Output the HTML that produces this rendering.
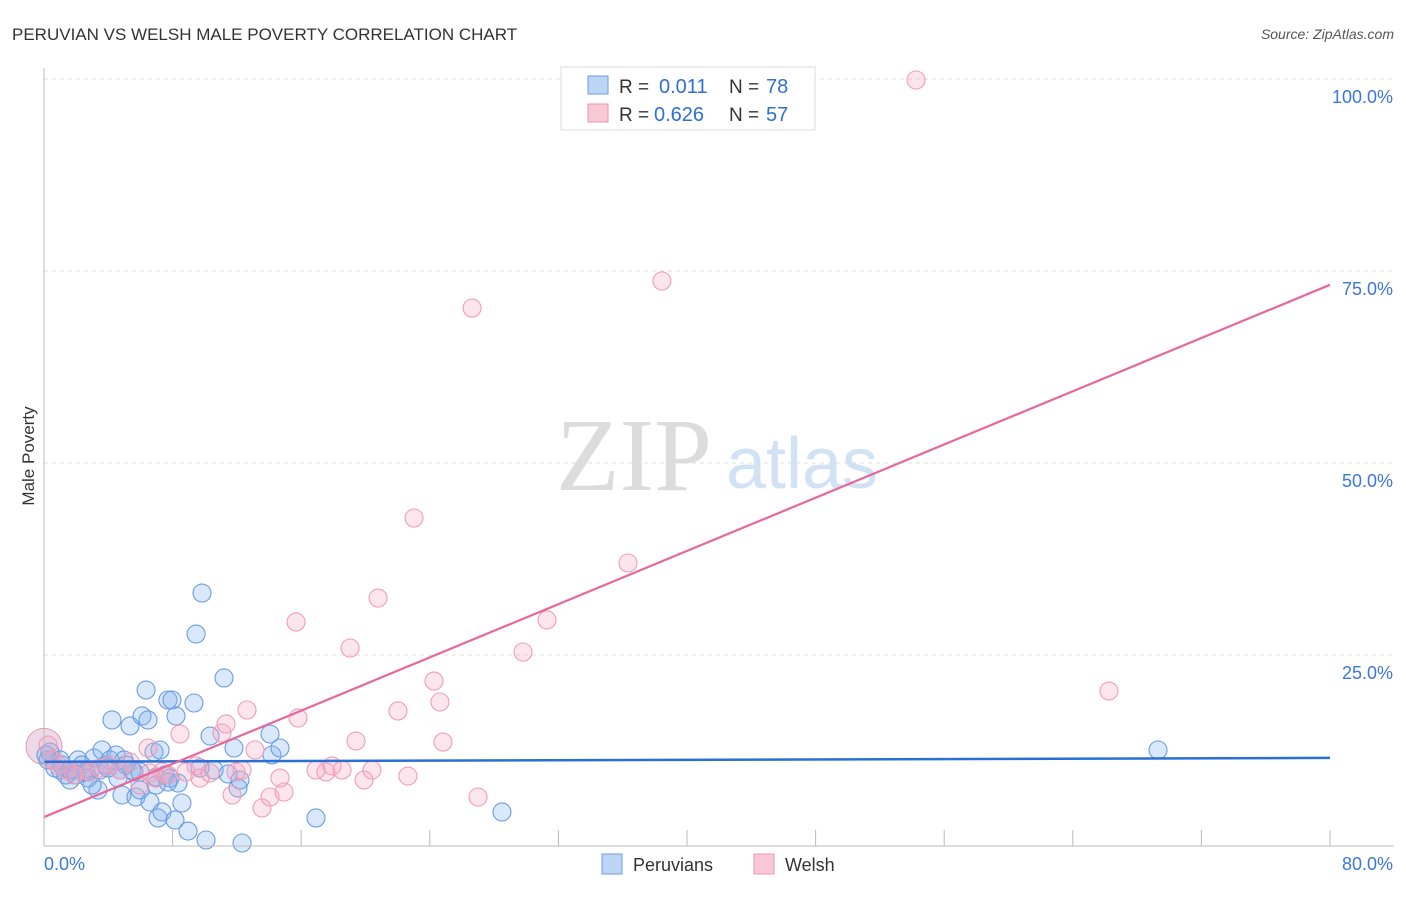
<!DOCTYPE html>
<html><head><meta charset="utf-8"><style>
body{margin:0;background:#fff;font-family:"Liberation Sans",sans-serif}
svg text{font-family:"Liberation Sans",sans-serif}
</style></head><body>
<svg id="chart" width="1406" height="892" xmlns="http://www.w3.org/2000/svg">
<text x="12" y="40" font-size="17" fill="#333">PERUVIAN VS WELSH MALE POVERTY CORRELATION CHART</text>
<text x="1394" y="39" font-size="14" fill="#555" font-style="italic" text-anchor="end">Source: ZipAtlas.com</text>
<g id="grid"></g>
<text x="634" y="490" font-size="104" fill="#dcdcdc" text-anchor="middle" style="font-family:'Liberation Serif',serif">ZIP</text>
<text x="802" y="488" font-size="72" fill="#d2e2f5" text-anchor="middle">atlas</text>
<g id="marks"></g>
<g id="axes"></g>
<text x="34" y="456" font-size="17" fill="#333" text-anchor="middle" transform="rotate(-90 34 456)">Male Poverty</text>
<g>
<rect x="561" y="67" width="254" height="63" fill="#fff" stroke="#ddd"/>
<rect x="588" y="76" width="20" height="18" fill="#bcd5f5" stroke="#6b9de0"/>
<rect x="588" y="104" width="20" height="18" fill="#f9c9d8" stroke="#eb94b0"/>
<text x="619" y="93" font-size="19" fill="#333">R =</text>
<text x="659" y="93" font-size="20" fill="#2f6fd6">0.011</text>
<text x="729" y="93" font-size="19" fill="#333">N =</text>
<text x="766" y="93" font-size="20" fill="#2f6fd6">78</text>
<text x="619" y="121" font-size="19" fill="#333">R =</text>
<text x="654" y="121" font-size="20" fill="#2f6fd6">0.626</text>
<text x="729" y="121" font-size="19" fill="#333">N =</text>
<text x="766" y="121" font-size="20" fill="#2f6fd6">57</text>
</g>
<g>
<rect x="602" y="854" width="20" height="20" fill="#bcd5f5" stroke="#6b9de0"/>
<text x="633" y="871" font-size="18" fill="#333">Peruvians</text>
<rect x="754" y="854" width="20" height="20" fill="#f9c9d8" stroke="#eb94b0"/>
<text x="785" y="871" font-size="18" fill="#333">Welsh</text>
</g>
</svg>
<script>
const xTicks=[0,80];
const yTicks=[25,50,75,100];
const bluePx=[[48,760],[50,752],[55,768],[60,770],[62,765],[66,775],[70,780],[74,770],[78,760],[82,765],[86,772],[90,770],[94,758],[98,790],[102,750],[106,765],[110,760],[112,720],[116,755],[118,778],[120,770],[124,760],[122,795],[130,726],[134,772],[136,797],[140,790],[142,716],[146,690],[148,720],[150,802],[154,752],[156,785],[158,818],[160,750],[162,812],[165,775],[168,700],[170,778],[172,700],[175,820],[176,716],[178,783],[182,803],[188,831],[194,703],[196,634],[202,593],[206,840],[210,736],[214,770],[224,678],[228,774],[234,748],[238,788],[242,843],[240,780],[270,734],[272,755],[280,748],[316,818],[502,812],[1158,750],[88,778],[92,785],[100,770],[126,765],[140,772],[60,760],[52,760],[70,770],[108,768],[132,770],[156,777],[168,782],[200,768],[76,775],[46,755]];
const pinkPx=[[48,745],[52,760],[58,765],[66,770],[74,775],[82,770],[90,772],[100,768],[110,765],[120,770],[130,762],[140,785],[148,748],[150,773],[156,778],[162,772],[168,775],[180,734],[186,772],[196,766],[200,778],[210,773],[222,733],[226,724],[232,795],[236,772],[242,770],[247,710],[255,750],[262,808],[270,797],[280,778],[284,792],[296,622],[298,718],[316,770],[326,772],[332,766],[342,770],[350,648],[356,741],[364,780],[372,770],[378,598],[398,711],[408,776],[414,518],[434,681],[440,702],[443,742],[472,308],[478,797],[523,652],[547,620],[628,563],[662,281],[916,80],[1109,691]];
const peruX=bluePx.map(p=>+((p[0]-44)*80/1286).toFixed(2));
const peruY=bluePx.map(p=>+((847-p[1])/7.68).toFixed(2));
const welshX=pinkPx.map(p=>+((p[0]-44)*80/1286).toFixed(2));
const welshY=pinkPx.map(p=>+((847-p[1])/7.68).toFixed(2));
const blueTrend=[11.1,11.6];
const pinkTrend=[3.9,73.2];
const X=v=>44+v*1286/80, Y=v=>847-v*7.68;
const NS="http://www.w3.org/2000/svg";
function mk(t,a,p){const e=document.createElementNS(NS,t);for(const k in a)e.setAttribute(k,a[k]);p.appendChild(e);return e;}
const grid=document.getElementById('grid'),axes=document.getElementById('axes'),marks=document.getElementById('marks');
yTicks.forEach(v=>{const l=mk('line',{x1:44,x2:1394,y1:Y(v),y2:Y(v),stroke:'#ddd','stroke-dasharray':'4,4'},grid);


const t=mk('text',{x:1393,y:Y(v)+24,'font-size':18,fill:'#3b78d8','text-anchor':'end'},axes);t.textContent=v.toFixed(1)+'%';

});
mk('line',{x1:44,x2:44,y1:68,y2:846,stroke:'#bbb'},axes);
mk('line',{x1:44,x2:1394,y1:846,y2:846,stroke:'#bbb'},axes);
for(let i=1;i<=10;i++){const x=X(i*8);mk('line',{x1:x,x2:x,y1:830,y2:846,stroke:'#bbb'},axes);}
xTicks.forEach((v,i)=>{const t=mk('text',{x:i?1393:44,y:870,'font-size':18,fill:'#3b78d8','text-anchor':i?'end':'start'},axes);t.textContent=v.toFixed(1)+'%';

});
const big=mk('circle',{cx:X(0),cy:Y(13.1),r:18,fill:'rgba(200,150,190,0.35)',stroke:'#e59ab5'},marks);


peruX.forEach((x,i)=>{const c=mk('circle',{cx:X(x),cy:Y(peruY[i]),r:9,fill:'rgba(130,178,238,0.3)',stroke:'#6a9ce3','stroke-width':1.1},marks);

});
welshX.forEach((x,i)=>{const c=mk('circle',{cx:X(x),cy:Y(welshY[i]),r:9,fill:'rgba(245,170,196,0.3)',stroke:'#ef9db8','stroke-width':1.1},marks);

});
const bl=mk('line',{x1:X(0),y1:Y(blueTrend[0]),x2:X(80),y2:Y(blueTrend[1]),stroke:'#2a6fd6','stroke-width':2.5},marks);


const pl=mk('line',{x1:X(0),y1:Y(pinkTrend[0]),x2:X(80),y2:Y(pinkTrend[1]),stroke:'#e8679a','stroke-width':2.2},marks);


</script>
</body></html>
